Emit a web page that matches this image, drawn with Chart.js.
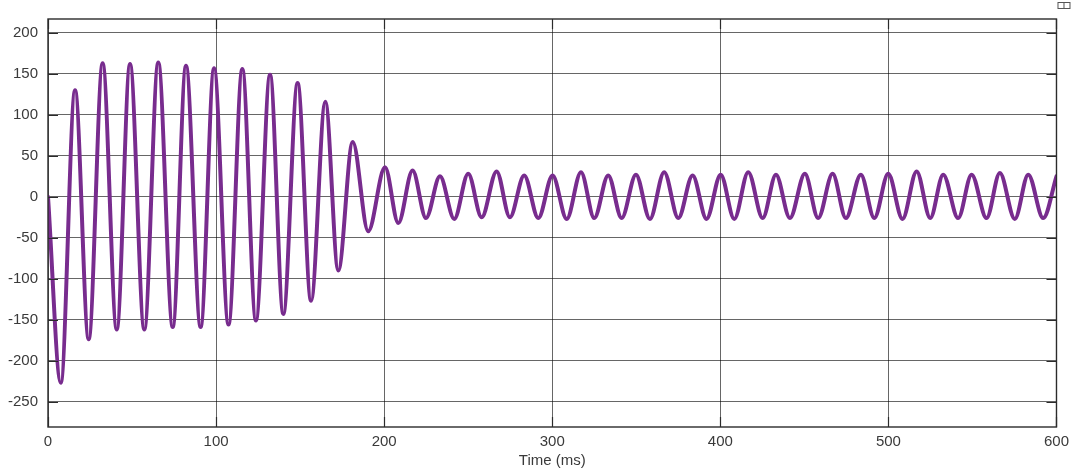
<!DOCTYPE html>
<html>
<head>
<meta charset="utf-8">
<script src="https://cdn.jsdelivr.net/npm/chart.js@4/dist/chart.umd.min.js"></script>
<style>
  html, body { margin: 0; padding: 0; background: #fff; }
  #wrap { width: 1075px; height: 470px; }
</style>
</head>
<body>
<div id="wrap"><canvas id="chart" width="1075" height="470"></canvas></div>
<script>
// Signal extrema (time in ms, value)
const timeMs = [
    0, 7.6, 16.1, 24.2, 32.5, 40.9, 48.8, 57.3, 65.6, 74.2,
    82.1, 90.8, 98.8, 107.4, 115.6, 123.7, 132.1, 140.0, 148.5, 156.5,
    165.0, 172.7, 181.3, 190.5, 200.5, 208.4, 216.9, 224.9, 233.2, 241.7,
    250.0, 258.0, 266.9, 274.8, 283.3, 291.7, 300.2, 308.6, 317.1, 325.0,
    333.3, 341.3, 349.8, 358.1, 366.6, 375.0, 383.5, 391.8, 400.2, 408.3,
    416.6, 425.2, 433.1, 441.4, 450.3, 458.2, 466.8, 474.7, 483.6, 491.6,
    499.9, 508.4, 516.8, 524.9, 532.6, 541.5, 549.5, 558.4, 566.3, 575.2,
    583.2, 592.1, 600
];
const signal = [
    0, -227, 130, -174, 163, -162, 162, -162, 164, -159,
    160, -159, 157, -156, 156, -151, 149, -143, 139, -127,
    116, -90, 67, -42, 36, -32, 32, -26, 25, -27,
    28, -25, 31, -25, 26, -26, 26, -27, 30, -26,
    26, -26, 27, -27, 30, -26, 26, -27, 27, -27,
    30, -26, 27, -26, 28, -26, 28, -26, 27, -26,
    28, -27, 31, -26, 27, -26, 27, -26, 29, -27,
    27, -26, 25
];

// Axis ticks
const xTicks = [0, 100, 200, 300, 400, 500, 600];
const yTicks = [-250, -200, -150, -100, -50, 0, 50, 100, 150, 200];

// Box around the plot, short inward tick marks, little corner icon
const framePlugin = {
    id: 'frame',
    afterDraw(chart) {
        const { ctx, chartArea: a, scales } = chart;
        ctx.save();
        ctx.strokeStyle = '#2b2b2b';
        ctx.lineWidth = 1.4;
        ctx.strokeRect(a.left, a.top, a.right - a.left, a.bottom - a.top);
        ctx.lineWidth = 1.2;
        ctx.beginPath();
        yTicks.forEach(v => {
            const y = Math.round(scales.y.getPixelForValue(v)) + 0.5;
            ctx.moveTo(a.left, y); ctx.lineTo(a.left + 10, y);
            ctx.moveTo(a.right, y); ctx.lineTo(a.right - 10, y);
        });
        xTicks.forEach(v => {
            const x = Math.round(scales.x.getPixelForValue(v)) + 0.5;
            ctx.moveTo(x, a.bottom); ctx.lineTo(x, a.bottom - 10);
            ctx.moveTo(x, a.top); ctx.lineTo(x, a.top + 10);
        });
        ctx.stroke();
        // tiny window icon above the top-right corner
        ctx.lineWidth = 1;
        ctx.strokeStyle = '#555';
        ctx.strokeRect(a.right + 1.5, 2.5, 12, 6);
        ctx.beginPath();
        ctx.moveTo(a.right + 7.5, 2.5); ctx.lineTo(a.right + 7.5, 8.5);
        ctx.stroke();
        ctx.restore();
    }
};

const tickFont = { family: 'Liberation Sans, Arial, sans-serif', size: 15 };

new Chart(document.getElementById('chart'), {
    type: 'line',
    data: {
        datasets: [{
            data: timeMs.map((t, i) => ({ x: t, y: signal[i] })),
            borderColor: '#782c8e',
            borderWidth: 4,
            pointRadius: 0,
            cubicInterpolationMode: 'monotone',
            borderJoinStyle: 'round',
            borderCapStyle: 'round'
        }]
    },
    options: {
        responsive: false,
        animation: false,
        layout: { padding: { top: 19, right: 18, left: 0, bottom: 0 } },
        plugins: {
            legend: { display: false },
            tooltip: { enabled: false }
        },
        scales: {
            x: {
                type: 'linear',
                min: 0,
                max: 600,
                afterBuildTicks: s => { s.ticks = xTicks.map(v => ({ value: v })); },
                afterFit: s => { s.height = 43; },
                grid: { color: 'rgba(0,0,0,0.6)', lineWidth: 1, drawTicks: false },
                border: { display: false },
                ticks: { font: tickFont, color: '#3a3a3a', padding: 6, maxRotation: 0 },
                title: {
                    display: true,
                    text: 'Time (ms)',
                    font: tickFont,
                    color: '#3a3a3a',
                    padding: { top: 0, bottom: 0 }
                }
            },
            y: {
                type: 'linear',
                min: -281,
                max: 217,
                afterBuildTicks: s => { s.ticks = yTicks.map(v => ({ value: v })); },
                afterFit: s => { s.width = 48; },
                grid: { color: 'rgba(0,0,0,0.6)', lineWidth: 1, drawTicks: false },
                border: { display: false },
                ticks: { font: tickFont, color: '#3a3a3a', padding: 10 }
            }
        }
    },
    plugins: [framePlugin]
});
</script>
</body>
</html>
